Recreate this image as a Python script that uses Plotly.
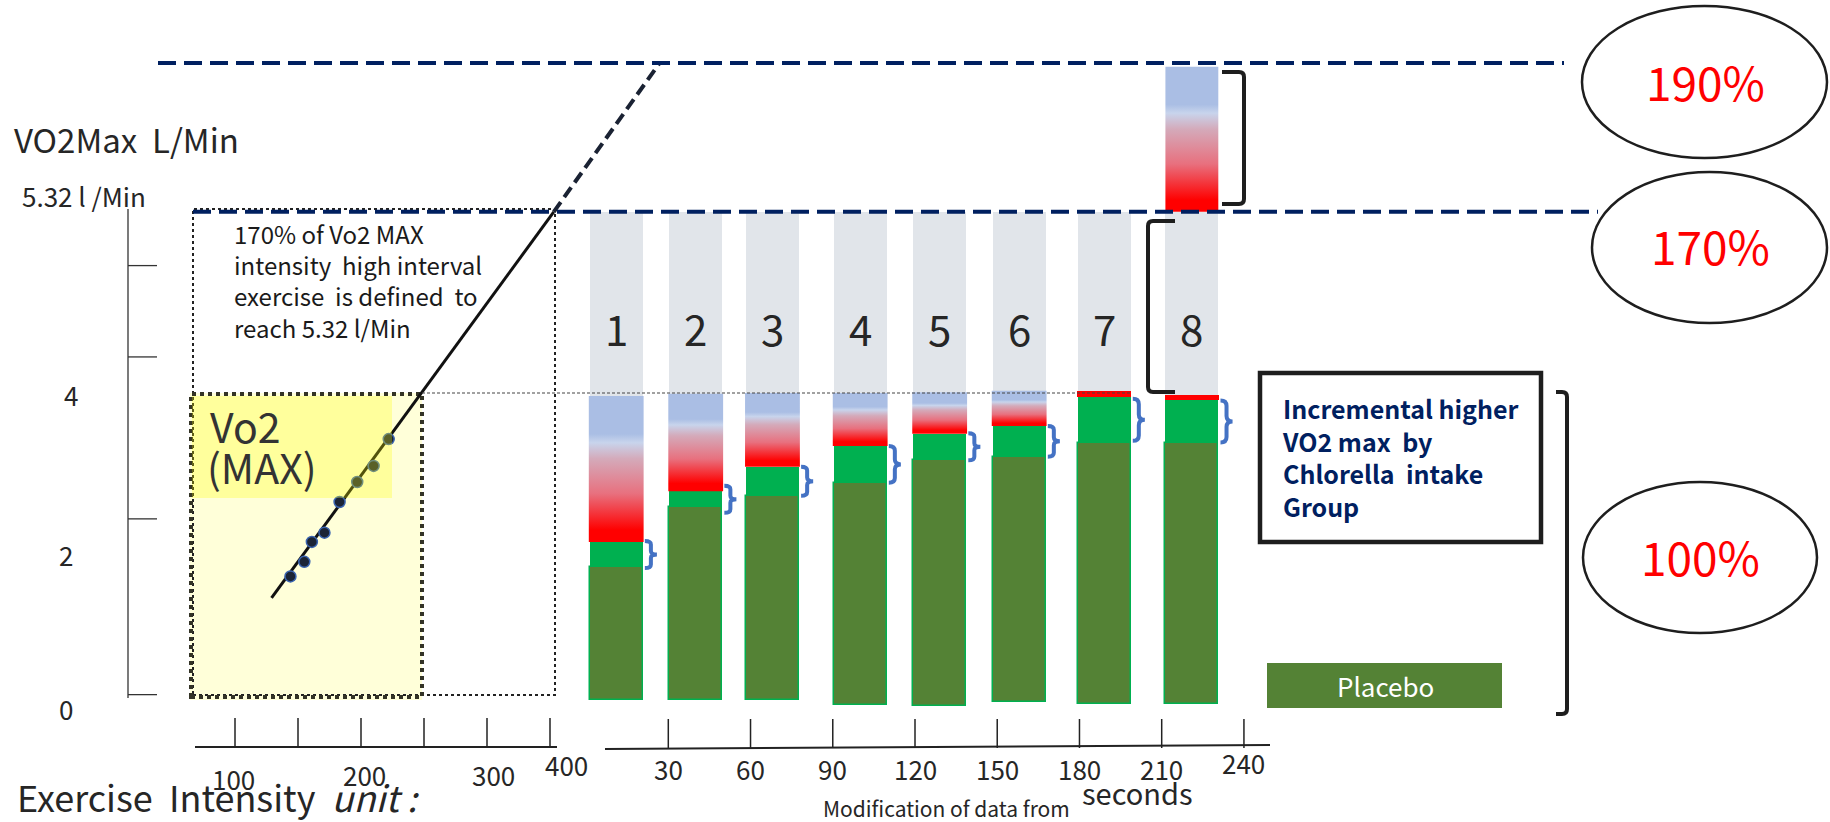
import plotly.graph_objects as go

FIG_W, FIG_H = 1830, 822

# ---------------- data ----------------
pct_labels = ["190%", "170%", "100%"]
level_190 = 8.30          # drawing scale, L/min
level_170 = 6.36          # 170 % of VO2max  (5.32 l/min)
level_100 = 4.00          # 100 % VO2max

y_tick_labels = ["0", "2", "4"]
y_tick_marks = [0.07, 2.36, 4.47, 5.66]

intensity_ticks = [100, 150, 200, 250, 300, 350]
intensity_label_text = ["100", "200", "300", "400"]
intensity_label_at = [99, 203, 305, 363]

test_intensity = [144, 155, 161, 171, 183, 197, 210, 222]
test_vo2 = [1.61, 1.80, 2.06, 2.18, 2.58, 2.84, 3.05, 3.40]

trend_intensity = [129, 353, 437]
trend_vo2 = [1.33, 6.36, 8.30]

time_ticks = [30, 60, 90, 120, 150, 180, 210, 240]
bar_labels = ["1", "2", "3", "4", "5", "6", "7", "8"]
bar_time = [11, 40, 68, 100, 129, 158, 189, 221]
bar_base = [0.00, 0.00, 0.00, -0.07, -0.08, -0.03, -0.05, -0.05]
placebo_top = [1.73, 2.51, 2.66, 2.83, 3.13, 3.17, 3.35, 3.35]
chlorella_top = [2.06, 2.72, 3.04, 3.31, 3.47, 3.57, 3.95, 3.91]
fatigue_top = [3.96, 3.99, 4.00, 4.00, 4.01, 4.03, 4.02, 3.98]
bar8_extra_top = 8.25

# ---------------- styles / layout constants ----------------
Y_RANGE = [-1.5896, 9.1205]
X_INT_RANGE = [-86.51, 1365.87]
X_TIME_RANGE = [-213.8, 453.8]
BAR_W = 19.3
FONT = "Noto Sans CJK JP, Noto Sans, sans-serif"
TXT = "#262626"
NAVY = "#002060"
GRAY_BAR = "#E1E5EA"
GREEN = "#00B050"
OLIVE = "#548235"
BRACE_BLUE = "#4472C4"
GRAD = [[0, "#FF0000"], [0.08, "#FF0000"], [0.33, "#E8707E"], [0.57, "#D4AABA"],
        [0.68, "#C8D4EC"], [0.74, "#AABEE4"], [1, "#AABEE4"]]


def PX(x):
    return x / FIG_W


def PY(y):
    return 1 - y / FIG_H


fig = go.Figure()

# gray upper part of each bar (up to 170 %)
fig.add_trace(go.Bar(x=bar_time, base=fatigue_top,
                     y=[level_170 - f for f in fatigue_top],
                     width=BAR_W, marker=dict(color=GRAY_BAR, line=dict(width=0)),
                     xaxis="x2", yaxis="y", hoverinfo="skip", showlegend=False))
# placebo (dark green)
fig.add_trace(go.Bar(x=bar_time, base=bar_base,
                     y=[p - b for p, b in zip(placebo_top, bar_base)],
                     width=BAR_W, marker=dict(color=OLIVE, line=dict(color=GREEN, width=1.5)),
                     xaxis="x2", yaxis="y", hoverinfo="skip", showlegend=False))
# chlorella increment (bright green)
fig.add_trace(go.Bar(x=bar_time, base=placebo_top,
                     y=[c - p for c, p in zip(chlorella_top, placebo_top)],
                     width=BAR_W, marker=dict(color=GREEN, line=dict(width=0)),
                     xaxis="x2", yaxis="y", hoverinfo="skip", showlegend=False))


def grad_block(xc, bottom, top, w):
    l, r = xc - w / 2, xc + w / 2
    return go.Scatter(x=[l, r, r, l, l], y=[bottom, bottom, top, top, bottom],
                      fill="toself", mode="lines", line=dict(width=0, color="rgba(0,0,0,0)"),
                      fillgradient=dict(type="vertical", colorscale=GRAD),
                      xaxis="x2", yaxis="y", hoverinfo="skip", showlegend=False)


# fatigue band (blue -> red gradient) / thin red line
for t, c, f in zip(bar_time, chlorella_top, fatigue_top):
    if f - c > 0.15:
        fig.add_trace(grad_block(t, c, f, BAR_W + 0.7))
    else:
        fig.add_trace(go.Bar(x=[t], base=[c], y=[f - c], width=BAR_W + 0.4,
                             marker=dict(color="#FF0000", line=dict(width=0)),
                             xaxis="x2", yaxis="y", hoverinfo="skip", showlegend=False))
# bar 8 above 170 %
fig.add_trace(grad_block(bar_time[-1], level_170, bar8_extra_top, BAR_W))

# trend line (solid up to 170 %, dashed beyond)
fig.add_trace(go.Scatter(x=trend_intensity[:2], y=trend_vo2[:2], mode="lines",
                         line=dict(color="#111111", width=3),
                         xaxis="x", yaxis="y", hoverinfo="skip", showlegend=False))
fig.add_trace(go.Scatter(x=trend_intensity[1:], y=trend_vo2[1:], mode="lines",
                         line=dict(color="#1A2233", width=4, dash="12px,6px"),
                         xaxis="x", yaxis="y", hoverinfo="skip", showlegend=False))
# measured points
fig.add_trace(go.Scatter(x=test_intensity, y=test_vo2, mode="markers",
                         marker=dict(size=11, color="#1B2436", line=dict(color="#3A64B0", width=1.5)),
                         xaxis="x", yaxis="y", hoverinfo="skip", showlegend=False))

shapes = []
# --- below traces ---
shapes.append(dict(type="rect", xref="paper", yref="paper", x0=PX(190), x1=PX(422), y0=PY(700), y1=PY(393),
                   fillcolor="#FFFFD9", line=dict(width=0), layer="below"))
shapes.append(dict(type="rect", xref="paper", yref="paper", x0=PX(193), x1=PX(555), y0=PY(695), y1=PY(209),
                   line=dict(color="#222222", width=2, dash="dot"), layer="below"))
shapes.append(dict(type="rect", xref="paper", yref="paper", x0=PX(191), x1=PX(422), y0=PY(697), y1=PY(394),
                   line=dict(color="#333326", width=4, dash="dot"), layer="below"))

# --- above traces ---
shapes.append(dict(type="rect", xref="paper", yref="paper", x0=PX(192), x1=PX(392), y0=PY(498), y1=PY(396),
                   fillcolor="#FFFF00", opacity=0.28, line=dict(width=0), layer="above"))
# reference levels
shapes.append(dict(type="line", xref="paper", yref="y", x0=PX(158), x1=PX(1564), y0=level_190, y1=level_190,
                   line=dict(color=NAVY, width=4, dash="18px,8px"), layer="above"))
shapes.append(dict(type="line", xref="paper", yref="y", x0=PX(193), x1=PX(1598), y0=level_170, y1=level_170,
                   line=dict(color=NAVY, width=4, dash="18px,8px"), layer="above"))
shapes.append(dict(type="line", xref="paper", yref="y", x0=PX(422), x1=PX(1130), y0=level_100, y1=level_100,
                   line=dict(color="#444444", width=1.2, dash="3px,2px"), layer="above"))

# blue braces beside each chlorella increment
PX_PER_V = FIG_H / (Y_RANGE[1] - Y_RANGE[0])
for t, p, c in zip(bar_time, placebo_top, chlorella_top):
    hpx = min(max((c - p) * PX_PER_V, 27), 42)
    ym = (p + c) / 2
    ytop, ybot = ym + hpx / 2 / PX_PER_V, ym - hpx / 2 / PX_PER_V
    x0 = t + BAR_W / 2 + 0.8
    w = 4.4
    xm, x1 = x0 + w / 2, x0 + w
    k = (ytop - ybot) * 0.13
    path = (f"M {x0},{ytop} Q {xm},{ytop} {xm},{ytop - k} L {xm},{ym + k} Q {xm},{ym} {x1},{ym} "
            f"Q {xm},{ym} {xm},{ym - k} L {xm},{ybot + k} Q {xm},{ybot} {x0},{ybot}")
    shapes.append(dict(type="path", xref="x2", yref="y", path=path,
                       line=dict(color=BRACE_BLUE, width=4), layer="above"))


def bracket(xl, xr, yt, yb, side):
    r = 5
    if side == "right":
        pts = (f"M {PX(xl)},{PY(yt)} L {PX(xr - r)},{PY(yt)} Q {PX(xr)},{PY(yt)} {PX(xr)},{PY(yt + r)} "
               f"L {PX(xr)},{PY(yb - r)} Q {PX(xr)},{PY(yb)} {PX(xr - r)},{PY(yb)} L {PX(xl)},{PY(yb)}")
    else:
        pts = (f"M {PX(xr)},{PY(yt)} L {PX(xl + r)},{PY(yt)} Q {PX(xl)},{PY(yt)} {PX(xl)},{PY(yt + r)} "
               f"L {PX(xl)},{PY(yb - r)} Q {PX(xl)},{PY(yb)} {PX(xl + r)},{PY(yb)} L {PX(xr)},{PY(yb)}")
    return dict(type="path", xref="paper", yref="paper", path=pts,
                line=dict(color="#1E1E1E", width=4), layer="above")


shapes.append(bracket(1222, 1244, 72, 204, "right"))
shapes.append(bracket(1148, 1175, 221, 392, "left"))
shapes.append(bracket(1556, 1567, 392, 714, "right"))

# ellipses
for (x0, x1, y0, y1) in [(1582, 1827, 6, 158), (1592, 1827, 172, 323), (1583, 1817, 482, 633)]:
    shapes.append(dict(type="circle", xref="paper", yref="paper", x0=PX(x0), x1=PX(x1), y0=PY(y1), y1=PY(y0),
                       line=dict(color="#1E1E1E", width=2.5), layer="above"))
# text box and placebo legend box
shapes.append(dict(type="rect", xref="paper", yref="paper", x0=PX(1260), x1=PX(1541), y0=PY(542), y1=PY(373),
                   line=dict(color="#1E1E1E", width=4.5), fillcolor="rgba(0,0,0,0)", layer="above"))
shapes.append(dict(type="rect", xref="paper", yref="paper", x0=PX(1267), x1=PX(1502), y0=PY(708), y1=PY(663),
                   line=dict(width=0), fillcolor=OLIVE, layer="above"))

# left vertical axis and its tick marks
shapes.append(dict(type="line", xref="paper", yref="paper", x0=PX(128), x1=PX(128), y0=PY(698), y1=PY(209),
                   line=dict(color="#333333", width=1.3), layer="above"))
for v in y_tick_marks:
    shapes.append(dict(type="line", xref="paper", yref="y", x0=PX(128), x1=PX(157), y0=v, y1=v,
                       line=dict(color="#333333", width=1.3), layer="above"))
# intensity axis
shapes.append(dict(type="line", xref="paper", yref="paper", x0=PX(195), x1=PX(557), y0=PY(747), y1=PY(747),
                   line=dict(color="#222222", width=2), layer="above"))
for v in intensity_ticks:
    shapes.append(dict(type="line", xref="x", yref="paper", x0=v, x1=v, y0=PY(747), y1=PY(718),
                       line=dict(color="#222222", width=1.5), layer="above"))
# time axis
shapes.append(dict(type="line", xref="paper", yref="paper", x0=PX(605), x1=PX(1270), y0=PY(749), y1=PY(745),
                   line=dict(color="#222222", width=2), layer="above"))
for v in time_ticks:
    shapes.append(dict(type="line", xref="x2", yref="paper", x0=v, x1=v, y0=PY(748), y1=PY(719),
                       line=dict(color="#222222", width=1.5), layer="above"))

ann = []


def text(s, x, y, size, color=TXT, xanchor="left", xref="paper", yref="paper", **kw):
    ann.append(dict(text=s, x=x, y=y, xref=xref, yref=yref, xanchor=xanchor, yanchor="middle",
                    showarrow=False, font=dict(family=FONT, size=size, color=color), **kw))


NB = "\u00a0"
text(f"VO2Max{NB}{NB}L/Min", PX(12), PY(139), 33)
text(f"5.32 l{NB}/Min", PX(20), PY(195), 26)
for lab, (x, y) in zip(y_tick_labels, [(66, 708), (66, 554), (71, 394)]):
    text(lab, PX(x), PY(y), 26, xanchor="center")
text(f"170% of Vo2 MAX<br>intensity{NB}{NB}high interval<br>exercise{NB}{NB}is defined{NB}{NB}to<br>reach 5.32 l/Min",
     PX(232), PY(280), 24, color="#1A1A1A", align="left")
text("Vo2", PX(208), PY(425), 41, color="#333333")
text("(MAX)", PX(205), PY(466), 41, color="#333333")
text(f"Exercise{NB}{NB}Intensity{NB}{NB}<i>unit{NB}:</i>", PX(15), PY(796), 36)
for lab, v, y in zip(intensity_label_text, intensity_label_at, [778, 774, 774, 764]):
    text(lab, v, PY(y), 26, xanchor="center", xref="x")
for v in time_ticks:
    text(str(v), v, PY(762 if v == 240 else 768), 26, xanchor="center", xref="x2")
text("seconds", PX(1137), PY(792), 29, xanchor="center")
text("Modification of data from", PX(946), PY(808), 21, xanchor="center")
for lab, t in zip(bar_labels, bar_time):
    text(lab, t, level_100 + 0.36 * (level_170 - level_100), 42, xanchor="center", xref="x2", yref="y")
text("<b>Incremental higher<br>VO2 max" + NB * 2 + "by<br>Chlorella" + NB * 2 + "intake<br>Group</b>",
     PX(1280), PY(457), 25, color=NAVY, align="left")
text("Placebo", PX(1385), PY(685), 26, color="white", xanchor="center")
for lab, (x, y) in zip(pct_labels, [(1705, 81), (1710, 245), (1700, 556)]):
    text(lab, PX(x), PY(y), 46, color="#FF0000", xanchor="center")

fig.update_layout(
    width=FIG_W, height=FIG_H, margin=dict(l=0, r=0, t=0, b=0),
    paper_bgcolor="white", plot_bgcolor="white", barmode="overlay", bargap=0,
    showlegend=False, shapes=shapes, annotations=ann,
    xaxis=dict(range=X_INT_RANGE, visible=False, fixedrange=True),
    xaxis2=dict(range=X_TIME_RANGE, visible=False, overlaying="x", anchor="y", fixedrange=True),
    yaxis=dict(range=Y_RANGE, visible=False, fixedrange=True),
)

fig.write_html("out.html", config={"displayModeBar": False},
               post_script="document.body.style.margin='0';document.body.style.overflow='hidden';")
